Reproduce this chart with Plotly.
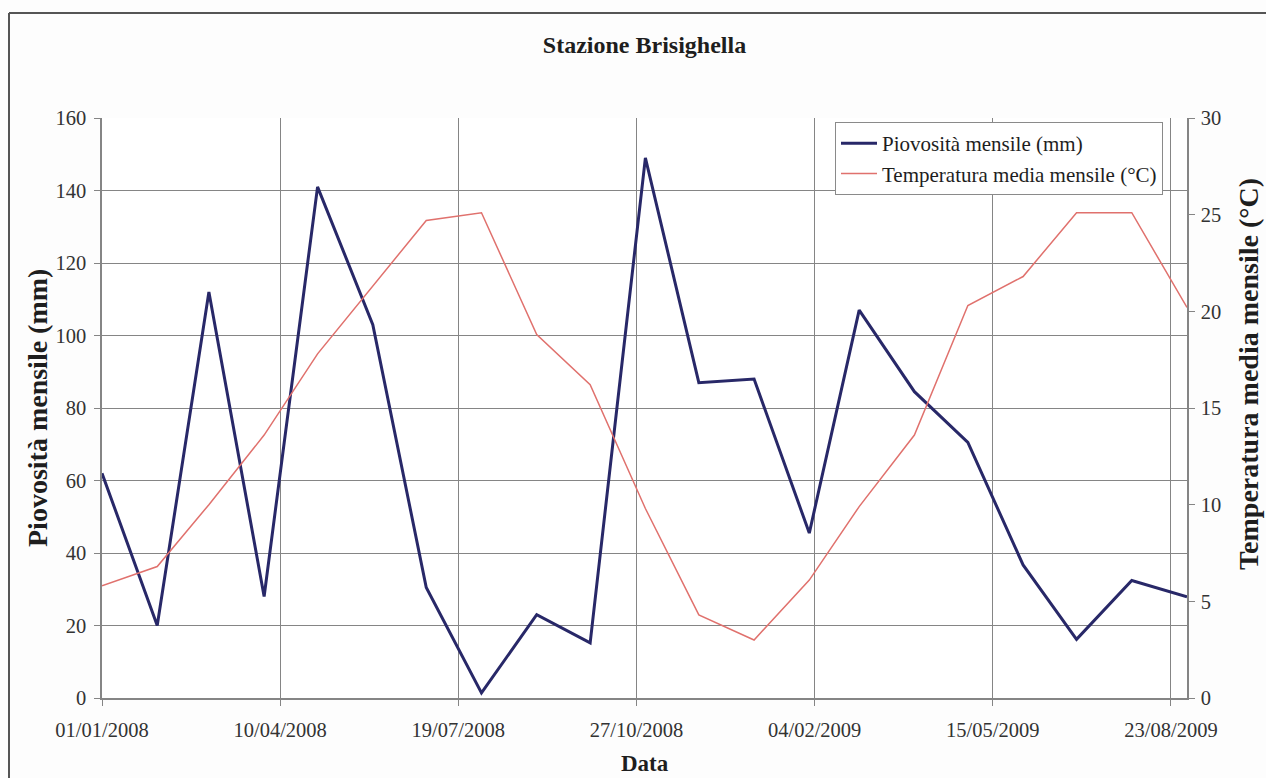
import plotly.graph_objects as go

# Monthly observations, first day of each month, Jan 2008 - Sep 2009
dates = [
    "2008-01-01", "2008-02-01", "2008-03-01", "2008-04-01", "2008-05-01",
    "2008-06-01", "2008-07-01", "2008-08-01", "2008-09-01", "2008-10-01",
    "2008-11-01", "2008-12-01", "2009-01-01", "2009-02-01", "2009-03-01",
    "2009-04-01", "2009-05-01", "2009-06-01", "2009-07-01", "2009-08-01",
    "2009-09-01",
]
pioggia_mm = [62, 20, 112, 28, 141, 103, 30.5, 1.4, 23, 15.2,
              149, 87, 88, 45.5, 107, 84.5, 70.5, 36.7, 16.2, 32.4, 27.9]
temperatura_c = [5.8, 6.8, 10.0, 13.6, 17.8, 21.3, 24.7, 25.1, 18.8, 16.2,
                 9.8, 4.3, 3.0, 6.1, 9.9, 13.6, 20.3, 21.8, 25.1, 25.1, 20.2]

titolo = "Stazione Brisighella"
nome_pioggia = "Piovosità mensile (mm)"
nome_temp = "Temperatura media mensile (°C)"

FONT = "Liberation Serif"
GRID = "#858585"
TICK_COL = "#333333"
TITLE_COL = "#1e1e1e"
W, H = 1266, 778
L, R, T, B = 102, 79, 118, 80
PW, PH = W - L - R, H - T - B


def px_x(x):
    return (x - L) / PW


def px_y(y):
    return (H - B - y) / PH


fig = go.Figure()
fig.add_trace(go.Scatter(
    x=dates, y=pioggia_mm, name=nome_pioggia, mode="lines",
    line=dict(color="#282868", width=3), yaxis="y",
))
fig.add_trace(go.Scatter(
    x=dates, y=temperatura_c, name=nome_temp, mode="lines",
    line=dict(color="#e0716d", width=1.5), yaxis="y2",
))

tick_font = dict(family=FONT, size=20.5, color=TICK_COL)

fig.update_layout(
    width=W, height=H,
    margin=dict(l=L, r=R, t=T, b=B),
    paper_bgcolor="#fdfdfd", plot_bgcolor="#ffffff",
    font=dict(family=FONT, size=20, color=TICK_COL),
    title=dict(text="<b>" + titolo + "</b>", x=0.5, xref="paper",
               y=1 - 45 / H, yanchor="middle",
               font=dict(family=FONT, size=24, color=TITLE_COL)),
    xaxis=dict(
        type="date", range=["2008-01-01", "2009-09-01"],
        tick0="2008-01-01", dtick=100 * 86400000, tickformat="%d/%m/%Y",
        showgrid=True, gridcolor=GRID, gridwidth=1.2,
        showline=True, linecolor=GRID, linewidth=1.5,
        ticks="outside", ticklen=6, tickcolor=GRID,
        ticklabelstandoff=7,
        tickfont=tick_font, zeroline=False,
    ),
    yaxis=dict(
        range=[0, 160], dtick=20,
        showgrid=True, gridcolor=GRID, gridwidth=1.2,
        showline=True, linecolor=GRID, linewidth=1.5,
        ticks="outside", ticklen=6, tickcolor=GRID,
        ticklabelstandoff=4,
        tickfont=tick_font, zeroline=False,
    ),
    yaxis2=dict(
        range=[0, 30], dtick=5, overlaying="y", side="right",
        showgrid=False,
        showline=True, linecolor=GRID, linewidth=1.5,
        ticks="outside", ticklen=6, tickcolor=GRID,
        ticklabelstandoff=2,
        tickfont=tick_font, zeroline=False,
    ),
    legend=dict(
        x=px_x(835), y=px_y(122),
        xanchor="left", yanchor="top",
        bgcolor="#ffffff", bordercolor="#8a8a8a", borderwidth=1,
        font=dict(family=FONT, size=21, color=TITLE_COL),
        tracegroupgap=0, itemwidth=36,
    ),
    showlegend=True,
)

# Axis titles placed as annotations
fig.add_annotation(text="<b>Data</b>", xref="paper", yref="paper",
                   x=0.5, y=px_y(763), showarrow=False,
                   xanchor="center", yanchor="middle",
                   font=dict(family=FONT, size=23, color=TITLE_COL))
fig.add_annotation(text="<b>" + nome_pioggia + "</b>", xref="paper", yref="paper",
                   x=px_x(37), y=px_y(408), showarrow=False, textangle=-90,
                   xanchor="center", yanchor="middle",
                   font=dict(family=FONT, size=28, color=TITLE_COL))
fig.add_annotation(text="<b>" + nome_temp + "</b>", xref="paper", yref="paper",
                   x=px_x(1248), y=px_y(374), showarrow=False, textangle=-90,
                   xanchor="center", yanchor="middle",
                   font=dict(family=FONT, size=28, color=TITLE_COL))

# Chart frame: top and left edges of the surrounding border
frame = dict(color="#555555", width=2)
fig.add_shape(type="line", xref="paper", yref="paper",
              x0=px_x(9), x1=px_x(W), y0=px_y(13), y1=px_y(13),
              line=frame, layer="above")
fig.add_shape(type="line", xref="paper", yref="paper",
              x0=px_x(9), x1=px_x(9), y0=px_y(13), y1=px_y(H),
              line=frame, layer="above")

fig.write_html("out.html")
